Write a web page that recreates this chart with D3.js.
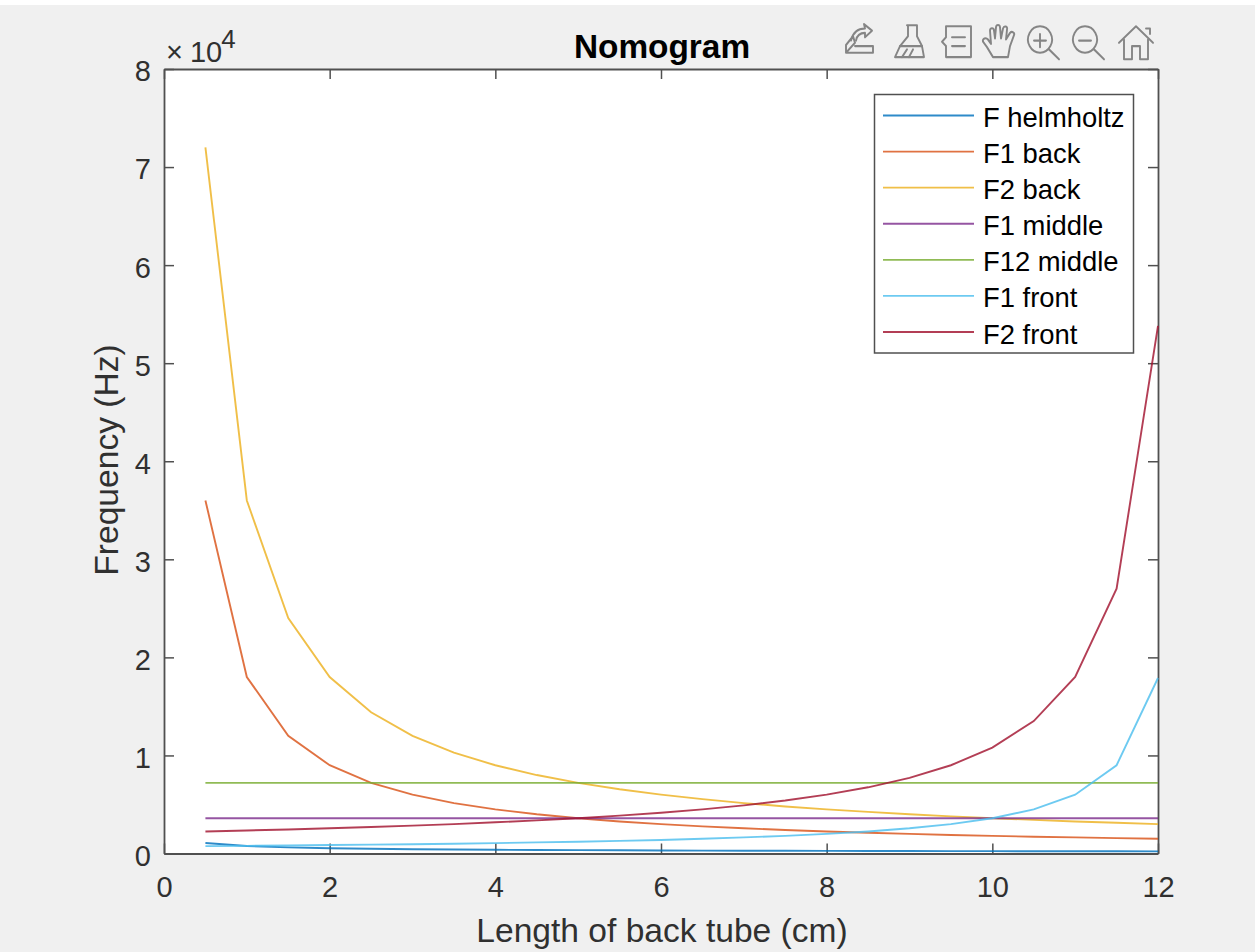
<!DOCTYPE html>
<html><head><meta charset="utf-8">
<script src="https://d3js.org/d3.v7.min.js"></script>
<style>
html,body{margin:0;padding:0;background:#fff}
svg{display:block}
text{font-family:"Liberation Sans",Arial,sans-serif}
</style></head><body>
<svg id="c" width="1255" height="952"></svg>
<script>
const lengths = [0.5,1,1.5,2,2.5,3,3.5,4,4.5,5,5.5,6,6.5,7,7.5,8,8.5,9,9.5,10,10.5,11,11.5,12];
const fHelmholtz = [1070,760,620,535,480,440,405,380,355,340,325,310,297,285,275,268,260,252,245,238,232,226,222,218];
const f1Back = [36000,18000,12000,9000,7200,6000,5140,4500,4000,3600,3270,3000,2770,2570,2400,2250,2120,2000,1890,1800,1710,1640,1570,1500];
const f2Back = [72000,36000,24000,18000,14400,12000,10290,9000,8000,7200,6550,6000,5540,5140,4800,4500,4240,4000,3790,3600,3430,3270,3130,3000];
const f1Middle = [3600,3600,3600,3600,3600,3600,3600,3600,3600,3600,3600,3600,3600,3600,3600,3600,3600,3600,3600,3600,3600,3600,3600,3600];
const f12Middle = [7200,7200,7200,7200,7200,7200,7200,7200,7200,7200,7200,7200,7200,7200,7200,7200,7200,7200,7200,7200,7200,7200,7200,7200];
const f1Front = [750,780,820,860,900,950,1000,1060,1130,1200,1290,1380,1500,1640,1800,2000,2250,2570,3000,3600,4500,6000,9000,17900];
const f2Front = [2250,2350,2450,2570,2700,2840,3000,3180,3380,3600,3860,4150,4500,4910,5400,6000,6750,7710,9000,10800,13500,18000,27000,53800];
const seriesNames = ["F helmholtz","F1 back","F2 back","F1 middle","F12 middle","F1 front","F2 front"];
const seriesColors = ["#0072BD","#D95319","#EDB120","#7E2F8E","#77AC30","#4DBEEE","#A2142F"];
const seriesValues = [fHelmholtz,f1Back,f2Back,f1Middle,f12Middle,f1Front,f2Front];
const xTicks = [0,2,4,6,8,10,12];
const yTicks = [0,10000,20000,30000,40000,50000,60000,70000,80000];

const svg = d3.select("#c");
svg.append("rect").attr("x",0).attr("y",5).attr("width",1255).attr("height",947).attr("fill","#f0f0f0");
const L=164,R=1158,T=69,B=853.5, AX="#505050", TX="#303030";
svg.append("rect").attr("x",L).attr("y",T).attr("width",R-L).attr("height",B-T).attr("fill","#fff");
const x=d3.scaleLinear().domain([0,12]).range([L,R]);
const y=d3.scaleLinear().domain([0,80000]).range([B,T]);

function styleAxis(g){g.select(".domain").attr("stroke",AX).attr("stroke-width",1.8);
  g.selectAll(".tick line").attr("stroke",AX).attr("stroke-width",1.5);
  g.selectAll("text").attr("fill",TX).style("font-size","29px").style("font-family",'"Liberation Sans",Arial,sans-serif');}
svg.append("g").attr("transform",`translate(0,${B})`)
  .call(d3.axisBottom(x).tickValues(xTicks).tickSize(-10).tickSizeOuter(0).tickPadding(23).tickFormat(d3.format("d"))).call(styleAxis);
svg.append("g").attr("transform",`translate(0,${T})`)
  .call(d3.axisTop(x).tickValues(xTicks).tickSize(-10).tickSizeOuter(0).tickFormat("")).call(styleAxis);
svg.append("g").attr("transform",`translate(${L},0)`)
  .call(d3.axisLeft(y).tickValues(yTicks).tickSize(-10).tickSizeOuter(0).tickPadding(13).tickFormat(d=>d/10000)).call(styleAxis)
  .selectAll("text").attr("dy","0.41em");
svg.append("g").attr("transform",`translate(${R},0)`)
  .call(d3.axisRight(y).tickValues(yTicks).tickSize(-10).tickSizeOuter(0).tickFormat("")).call(styleAxis);

const line=d3.line().x((d,i)=>x(lengths[i])).y(d=>y(d));
svg.append("g").selectAll("path").data(seriesValues).join("path")
  .attr("d",line).attr("fill","none").attr("stroke-width",1.9).attr("stroke-opacity",0.82)
  .attr("stroke",(d,i)=>seriesColors[i]);

// title and labels
svg.append("text").attr("x",662).attr("y",58).attr("text-anchor","middle").attr("font-weight","bold").attr("font-size",33.4).attr("fill","#000").text("Nomogram");
svg.append("text").attr("x",662).attr("y",942).attr("text-anchor","middle").attr("font-size",33.6).attr("fill",TX).text("Length of back tube (cm)");
svg.append("text").attr("transform","translate(118,460) rotate(-90)").attr("text-anchor","middle").attr("font-size",33.6).attr("fill",TX).text("Frequency (Hz)");
const exp=svg.append("text").attr("x",166).attr("y",62).attr("font-size",29).attr("fill",TX);
exp.append("tspan").text("×");
exp.append("tspan").attr("dx",7).text("10");
exp.append("tspan").attr("dx",-1).attr("dy",-14).attr("font-size",26).text("4");

// legend
const lg=svg.append("g");
lg.append("rect").attr("x",874.5).attr("y",94.5).attr("width",259).attr("height",258.5).attr("fill","#fff").attr("stroke",AX).attr("stroke-width",1.5);
const rowY=d3.scalePoint().domain(seriesNames).range([115.5,332]);
const row=lg.selectAll("g").data(seriesNames).join("g").attr("transform",d=>`translate(0,${rowY(d)})`);
row.append("line").attr("x1",883).attr("x2",974).attr("stroke-width",1.9).attr("stroke-opacity",0.82).attr("stroke",(d,i)=>seriesColors[i]);
row.append("text").attr("x",983).attr("y",11.5).attr("font-size",27.4).attr("fill","#000").text(d=>d);

// toolbar icons
const tb=svg.append("g").attr("fill","none").attr("stroke","#858585").attr("stroke-width",1.9).attr("stroke-linejoin","round").attr("stroke-linecap","round");
const icons=[
 [843,["M3 27 L3 20 L10 12 L12 18 L3 27 M3 27 L30 27 L30 21 L12 21","M8 16 C10 8 16 5 22 5 L21 1 L29 7 L22 13 L22 9 C17 9 14 11 13 16"]],
 [890,["M17 2 L27 2 M18 2 L18 12 L10 21 L5 31 L34 31 L32 21 L27 12 L27 2","M10 21 L32 21","M12 31 L17 24 M19 31 L23 24"]],
 [936,["M10 3 L35 3 L35 31 L10 31 L10 21 L6 17 L10 13 Z","M16 13 L29 13 M16 21 L29 21"]],
 [981,["M12 31 L6 22 L2 17 C1 14 5 13 7 15 L10 19 L9 7 C9 4 13 4 13 7 L14 14 L15 4 C15 1 19 1 19 4 L20 14 L22 5 C23 2 27 3 26 6 L25 15 L29 9 C31 7 34 9 33 11 L29 21 L27 31 Z"]],
 [1026,["M14 3 A12 12 0 1 0 14.01 3 Z","M23 24 L33 33","M14 10 L14 22 M8 16 L20 16"]],
 [1071,["M14 3 A12 12 0 1 0 14.01 3 Z","M23 24 L33 33","M8 16 L20 16"]],
 [1117,["M2 18 L19 3 L36 18","M7 15 L7 33 L15 33 L15 21 L23 21 L23 33 L31 33 L31 15","M29 5 L33 5 L33 10"]]
];
tb.selectAll("g").data(icons).join("g").attr("transform",d=>`translate(${d[0]},23) scale(1,1.1)`)
  .selectAll("path").data(d=>d[1]).join("path").attr("d",d=>d);
</script>
</body></html>
